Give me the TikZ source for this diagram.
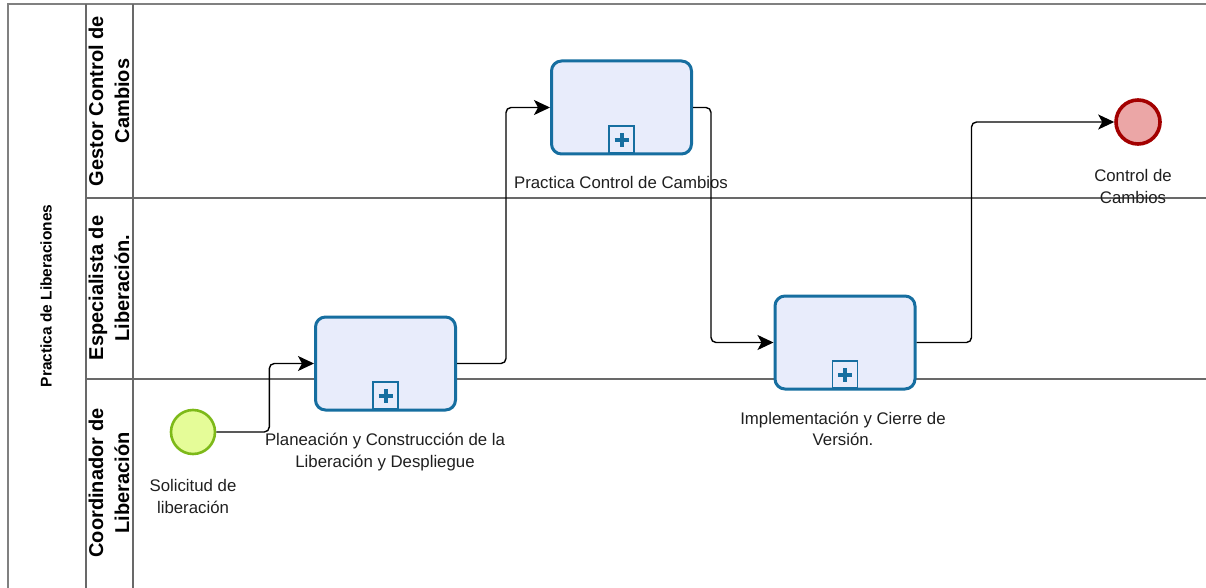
\documentclass[tikz,border=0pt]{standalone}
\usepackage{fontspec}
\setmainfont{Liberation Sans}
\usetikzlibrary{arrows.meta}
\definecolor{taskblue}{RGB}{22,110,160}
\definecolor{taskfill}{RGB}{232,236,251}
\definecolor{startfill}{RGB}{229,252,152}
\definecolor{startline}{RGB}{125,185,25}
\definecolor{endfill}{RGB}{235,166,166}
\definecolor{endline}{RGB}{163,0,0}
\definecolor{laneline}{RGB}{105,105,105}
\definecolor{poolline}{RGB}{128,128,128}
\begin{document}
\begin{tikzpicture}[x=1pt,y=1pt,
  task/.style={draw=taskblue, line width=3pt, fill=taskfill, rounded corners=10pt,
    minimum width=140pt, minimum height=93pt, inner sep=0pt},
  submarker/.style={draw=taskblue, line width=1.8pt, fill=taskfill,
    minimum width=25pt, minimum height=27pt, inner sep=0pt},
  plusbar/.style={draw=taskblue, line width=4pt},
  startev/.style={circle, draw=startline, line width=2.6pt, fill=startfill, minimum size=44pt, inner sep=0pt},
  endev/.style={circle, draw=endline, line width=3.6pt, fill=endfill, minimum size=44pt, inner sep=0pt},
  lbl/.style={font=\fontsize{16.8}{21.5}\selectfont, align=center, text=black!88},
  lanehead/.style={font=\bfseries\fontsize{20}{26}\selectfont, rotate=90, align=center},
  poolhead/.style={font=\bfseries\fontsize{15.5}{18}\selectfont, rotate=90},
  lanesep/.style={draw=laneline, line width=1.3pt},
  poolsep/.style={draw=poolline, line width=2pt},
  flow/.style={draw=black, line width=1.4pt, rounded corners=5pt, -{Stealth[length=16pt,width=15pt,inset=4pt]}}
]
\useasboundingbox (0,0) rectangle (1206,-588);
% pool and lanes
\draw[poolsep] (8,-588) -- (8,-4) -- (1206,-4);
\draw[lanesep] (86,-4) -- (86,-588);
\draw[lanesep] (133,-4) -- (133,-588);
\draw[lanesep] (86,-198) -- (1206,-198);
\draw[lanesep] (86,-379) -- (1206,-379);
\node[poolhead] (pool) at (46,-296) {Practica de Liberaciones};
\node[lanehead] (lane1) at (109,-101) {Gestor Control de\\Cambios};
\node[lanehead] (lane2) at (109,-288) {Especialista de\\Liberación.};
\node[lanehead] (lane3) at (109,-483) {Coordinador de\\Liberación};
% events
\node[startev] (start) at (193,-432) {};
\node[endev] (end) at (1138,-122) {};
\node[lbl] (startlbl) at (193,-496.5) {Solicitud de\\liberación};
\node[lbl] (endlbl) at (1133,-186.5) {Control de\\Cambios};
% tasks
\node[task] (t1) at (385.5,-363.5) {};
\node[task] (t2) at (621.5,-107.5) {};
\node[task] (t3) at (845,-342.5) {};
\foreach \t in {t1,t2,t3}{
  \node[submarker, anchor=south] (\t m) at ([yshift=1.5pt]\t.south) {};
  \draw[plusbar] ([xshift=-7pt]\t m.center) -- ([xshift=7pt]\t m.center);
  \draw[plusbar] ([yshift=-7pt]\t m.center) -- ([yshift=7pt]\t m.center);
}
\node[lbl] (t1lbl) at (385,-452) {Planeación y Construcción de la\\Liberación y Despliegue};
\node[lbl] (t2lbl) at (621,-182) {Practica Control de Cambios};
\node[lbl] (t3lbl) at (843,-429) {Implementación y Cierre de\\Versión.};
% flows
\draw[flow] (start.east) -- ++(53,0) |- (t1.west);
\draw[flow] (t1.east) -- ++(49,0) |- (t2.west);
\draw[flow] (t2.east) -- ++(18,0) |- (t3.west);
\draw[flow] (t3.east) -- ++(55,0) |- (end.west);
\end{tikzpicture}
\end{document}
